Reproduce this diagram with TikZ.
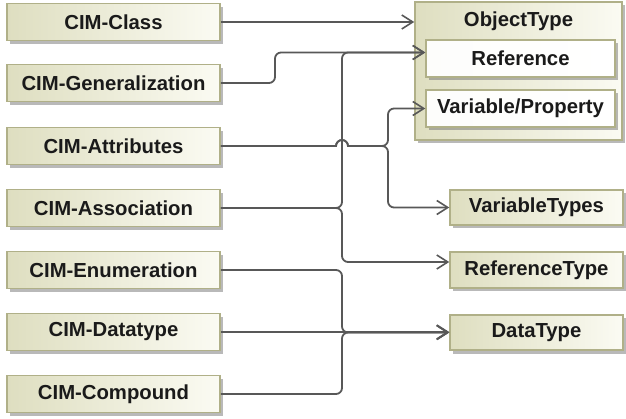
\documentclass[tikz,border=0pt]{standalone}
\usepackage{fontspec}
\newfontfamily\labelfont{Liberation Sans}
\usetikzlibrary{arrows.meta,shadows,calc}

\definecolor{boxL}{HTML}{DEDEC0}
\definecolor{boxR}{HTML}{FBFBF3}
\definecolor{boxEdge}{HTML}{B0B088}
\definecolor{wireGray}{HTML}{585858}
\definecolor{inkDark}{HTML}{1A1A1A}

\tikzset{
  labelstyle/.style={text=inkDark, font=\labelfont\bfseries\fontsize{20.3}{22}\selectfont},
  umlbox/.style={draw=boxEdge, line width=1.5pt, left color=boxL, right color=boxR,
    labelstyle, inner sep=0pt,
    drop shadow={shadow xshift=3pt, shadow yshift=-3.5pt, opacity=0.5, fill=black!55}},
  srcbox/.style={umlbox, minimum width=213pt, minimum height=37pt},
  dstbox/.style={umlbox, minimum width=173pt, minimum height=35pt},
  innerbox/.style={umlbox, left color=white!94!boxL, right color=white,
    minimum width=189pt, minimum height=37pt},
  conn/.style={draw=wireGray, line width=1.8pt, rounded corners=6pt,
    -{Straight Barb[length=11pt,width=14pt,line width=1.6pt]}},
}

\begin{document}
\begin{tikzpicture}[x=1pt,y=-1pt]
\useasboundingbox (0,0) rectangle (626,419);

% CIM source elements
\node[srcbox] (cls)   at (113.5, 22)  {CIM-Class};
\node[srcbox] (gen)   at (113.5, 83)  {CIM-Generalization};
\node[srcbox] (attr)  at (113.5, 146) {CIM-Attributes};
\node[srcbox] (assoc) at (113.5, 208) {CIM-Association};
\node[srcbox] (enum)  at (113.5, 270) {CIM-Enumeration};
\node[srcbox] (dtype) at (113.5, 332) {CIM-Datatype};
\node[srcbox] (comp)  at (113.5, 394) {CIM-Compound};

% OPC UA targets
\node[umlbox, minimum width=207pt, minimum height=138pt] (ot) at (518.5, 71) {};
\node[labelstyle] (ottitle) at (518.5, 21) {ObjectType};
\node[innerbox] (ref) at (520.5, 58.5)  {Reference};
\node[innerbox] (vp)  at (520.5, 108.5) {Variable/Property};

\node[dstbox] (vt) at (536.5, 207.5) {VariableTypes};
\node[dstbox, minimum height=36pt] (rt) at (536.5, 270) {ReferenceType};
\node[dstbox] (dt) at (536.5, 332.5) {DataType};

% routing columns and entry points
\coordinate (colA) at (275,0);
\coordinate (colB) at (342,0);
\coordinate (colC) at (388,0);
\coordinate (refIn) at ($(ref.west)+(0,-6)$);
\coordinate (rtIn)  at ($(rt.west)+(0,-8)$);
\coordinate (hopL)  at ($(colB |- attr.east)+(-6,0)$);
\coordinate (hopR)  at ($(colB |- attr.east)+(6,0)$);

% connectors
\draw[conn] (cls.east) -- (cls.east -| ot.west);
\draw[conn] (gen.east) -| (colA |- refIn) -- (refIn);
\draw[conn] (assoc.east) -| (colB |- refIn) -- (refIn);
\draw[conn] (assoc.east) -| (colB |- rtIn) -- (rtIn);

% attributes: hop over the association column, then split
\draw[conn, sharp corners] (attr.east) -- (hopL)
  arc[start angle=180, end angle=360, radius=6]
  [rounded corners=6pt] -| (colC |- vp.west) -- (vp.west);
\draw[conn, sharp corners] (attr.east) -- (hopL)
  arc[start angle=180, end angle=360, radius=6]
  [rounded corners=6pt] -| (colC |- vt.west) -- (vt.west);

\draw[conn] (enum.east) -| (colB |- dt.west) -- (dt.west);
\draw[conn] (dtype.east) -- (dtype.east -| dt.west);
\draw[conn] (comp.east) -| (colB |- dt.west) -- (dt.west);
\end{tikzpicture}
\end{document}
